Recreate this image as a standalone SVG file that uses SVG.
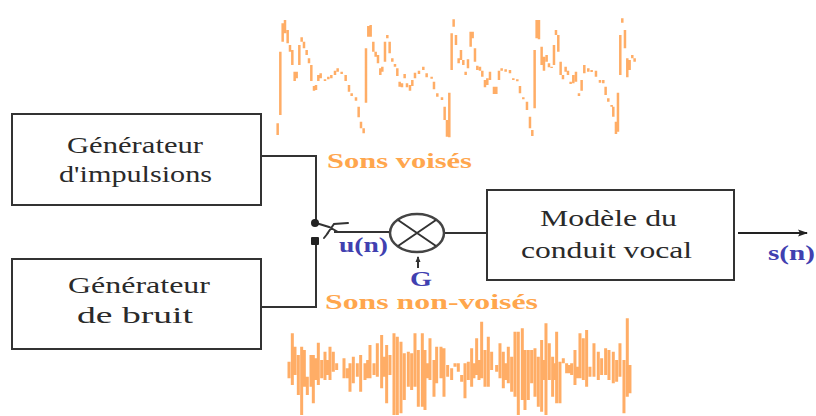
<svg xmlns="http://www.w3.org/2000/svg" width="816" height="416" viewBox="0 0 816 416">
<style>
.box{fill:#fff;stroke:#333;stroke-width:2}
.line{fill:none;stroke:#333;stroke-width:2}
.t{font-family:"Liberation Serif",serif;font-size:23px;fill:#2a2a2a}
.o{font-family:"Liberation Serif",serif;font-size:22px;font-weight:bold;fill:#ffa64d}
.b{font-family:"Liberation Serif",serif;font-size:20px;font-weight:bold;fill:#4040b0}
.wave{fill:none;stroke:#ffad66}
</style>
<defs>
<filter id="soft" x="-5%" y="-5%" width="110%" height="110%"><feGaussianBlur stdDeviation="0.5"/></filter>
<marker id="arrow" markerWidth="10" markerHeight="8" refX="9" refY="4" orient="auto" markerUnits="userSpaceOnUse"><path d="M0 0.5L10 4L0 7.5L2 4Z" fill="#222"/></marker>
<marker id="tiny" markerWidth="6" markerHeight="6" refX="5" refY="3" orient="auto" markerUnits="userSpaceOnUse"><path d="M0 0.5L6 3L0 5.5Z" fill="#333"/></marker>
</defs>
<rect width="816" height="416" fill="#fff"/>
<g id="voiced-wave" filter="url(#soft)"><path class="wave" stroke-width="7.5" transform="translate(260 0) scale(.3333)" d="M53 370V405M61 155V345M68 70V125M75 60V100M83 90V130M90 135V155M97 150V195M104 215V243M110 215V235M118 135V195M125 112V125M132 125V145M140 150V165M147 175V190M154 195V243M162 258V272M168 255V270M175 225V243M182 220V235M195 238V243M205 230V238M214 225V235M225 212V225M233 205V215M245 215V222M257 225V243M267 255V275M275 280V288M288 292V302M296 320V352M303 365V385M311 385V400M318 145V308M325 78V110M332 75V110M340 125V155M347 155V170M354 165V190M361 205V225M367 200V215M375 125V185M382 105V115M389 125V160M397 175V185M405 192V200M412 205V228M419 245V260M426 250V262M434 222V235M441 250V262M450 255V272M457 240V258M465 218V235M477 212V222M490 200V210M500 220V232M515 230V236M522 245V268M532 280V290M546 292V300M554 320V360M561 360V410M568 278V412M575 100V210M581 58V80M588 105V135M596 175V190M603 150V180M610 180V195M617 215V225M624 178V205M632 95V140M638 95V115M645 145V185M652 197V210M660 200V212M667 212V230M675 240V262M682 235V255M690 215V240M702 260V282M709 260V282M717 212V240M725 205V212M737 208V215M750 210V220M760 235V240M772 238V244M780 258V280M790 292V298M801 305V330M810 350V385M817 390V408M824 150V325M830 60V115M837 60V118M845 140V195M852 170V212M860 165V185M867 190V202M875 200V204M882 135V195M888 90V105M895 105V155M902 185V225M909 225V238M917 200V215M924 212V225M932 245V252M940 225V250M948 215V245M957 280V288M965 240V272M973 195V220M985 205V215M995 210V216M1008 212V230M1020 240V248M1030 240V250M1037 260V285M1045 295V305M1055 315V320M1060 320V350M1068 365V402M1074 278V395M1081 105V225M1087 55V68M1095 90V145M1102 175V232M1109 180V210M1117 165V175M1124 175V185"/></g>
<g id="noise-wave" filter="url(#soft)"><path class="wave" stroke-width="9" transform="translate(270 300) scale(.3333)" d="M57 185V235M67 100V255M75 140V225M85 165V285M95 140V345M103 150V260M112 230V285M123 165V260M130 165V310M137 175V240M145 128V255M155 180V235M165 155V240M172 180V225M180 140V240M190 155V215M200 190V210M222 175V235M232 205V235M240 190V275M250 170V250M262 190V230M272 165V275M285 190V240M293 180V235M300 135V235M312 190V225M322 130V230M335 105V265M342 170V230M350 135V310M360 165V225M372 100V345M382 110V345M393 125V340M403 160V300M415 155V260M425 160V270M435 100V260M445 150V320M457 100V320M465 150V330M472 190V235M480 115V240M492 180V290M500 140V250M513 140V235M522 145V290M533 195V230M545 205V240M555 190V200M565 190V215M575 225V245M585 190V295M595 185V240M605 145V260M612 190V235M620 115V225M627 180V240M635 65V235M645 150V260M655 110V260M665 155V210M680 195V215M690 130V235M700 155V265M708 190V240M715 140V250M725 170V275M735 95V290M745 95V345M757 85V300M765 150V330M775 150V300M785 150V250M795 145V290M805 170V320M815 120V335M822 180V240M828 70V345M838 130V240M848 170V290M854 190V240M860 95V310M870 185V310M880 175V190M890 190V220M898 195V220M905 190V225M915 150V255M922 200V235M930 100V235M940 115V240M950 90V260M960 200V230M972 130V230M985 155V240M995 175V225M1007 145V225M1017 150V240M1030 155V250M1040 180V245M1050 130V230M1062 180V340M1072 55V290M1080 195V280"/></g>
<g id="connectors">
<path class="line" d="M261 156H316V222"/>
<path class="line" d="M261 307H316V241"/>
<path class="line" stroke-linecap="round" d="M316 223L329 227L338 232M327 234L334 224L348 223M324 238L328 233"/>
<path class="line" d="M334 232H390"/>
<path class="line" d="M445 233H487"/>
<path class="line" d="M418 268V257" marker-end="url(#tiny)"/>
<path class="line" style="stroke:#222" d="M738 233H807" marker-end="url(#arrow)"/>
<circle cx="315" cy="223" r="4" fill="#222"/>
<rect x="311" y="237" width="8" height="8" rx="1" fill="#222"/>
</g>
<g id="generateur-impulsions">
<rect class="box" x="12" y="114" width="249" height="91"/>
<text class="t" x="67" y="153" textLength="136" lengthAdjust="spacingAndGlyphs">Générateur</text>
<text class="t" x="59" y="182" textLength="153" lengthAdjust="spacingAndGlyphs">d'impulsions</text>
</g>
<g id="generateur-bruit">
<rect class="box" x="12" y="259" width="249" height="90"/>
<text class="t" x="68" y="293" textLength="142" lengthAdjust="spacingAndGlyphs">Générateur</text>
<text class="t" x="77" y="323" textLength="116" lengthAdjust="spacingAndGlyphs">de bruit</text>
</g>
<g id="multiplieur">
<ellipse cx="417" cy="233" rx="27" ry="19" fill="#fff" stroke="#444" stroke-width="2.5"/>
<path class="line" stroke-width="2.5" d="M398 220L436 246M398 246L436 220"/>
</g>
<g id="conduit-vocal">
<rect class="box" x="487" y="190" width="247" height="90"/>
<text class="t" x="540" y="226" textLength="137" lengthAdjust="spacingAndGlyphs">Modèle du</text>
<text class="t" x="521" y="258" textLength="171" lengthAdjust="spacingAndGlyphs">conduit vocal</text>
</g>
<g id="labels">
<text class="o" x="327" y="168" textLength="145" lengthAdjust="spacingAndGlyphs">Sons voisés</text>
<text class="o" x="325" y="309" textLength="213" lengthAdjust="spacingAndGlyphs">Sons non-voisés</text>
<text class="b" x="339" y="252" textLength="49" lengthAdjust="spacingAndGlyphs">u(n)</text>
<text class="b" x="410" y="286" textLength="22" lengthAdjust="spacingAndGlyphs">G</text>
<text class="b" x="768" y="260" textLength="47" lengthAdjust="spacingAndGlyphs">s(n)</text>
</g>
</svg>
